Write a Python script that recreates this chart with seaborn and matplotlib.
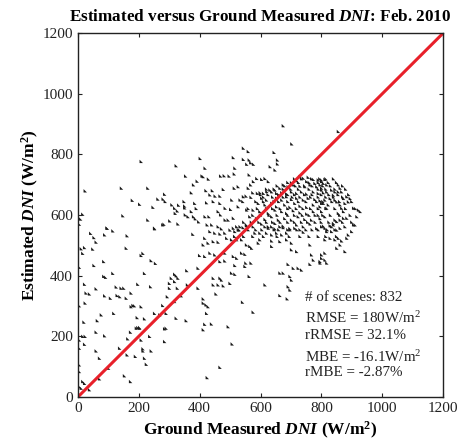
import seaborn as sns
import pandas as pd
import matplotlib.pyplot as plt

# ground measured DNI (x) and estimated DNI (y), W/m2
ground = [208, 323, 402, 354, 408, 392, 380, 24, 143, 230, 373, 285, 263, 280, 287, 179, 203, 247, 309, 331,
          318, 327, 320, 349, 351, 351, 384, 373, 389, 353, 362, 380, 386, 397, 329, 302, 283, 230, 252, 148,
          96, 16, 9, 5,
          675, 703, 544, 560, 645, 511, 544, 563, 568, 577, 555, 656, 656, 632, 648, 418, 516, 412, 429, 469,
          481, 497, 514, 563, 588, 604, 615, 577, 568, 626, 527, 514, 560, 478, 421, 442, 434, 451, 467, 575,
          590, 599, 610, 621, 544, 553, 569, 533, 542, 506, 423, 445, 467, 484, 502, 527, 555, 418, 431, 461,
          469, 484, 494, 511, 425, 440, 461,
          856, 801, 812, 807, 796, 818, 801, 818, 834, 845, 856, 862, 856, 867, 840, 829, 812, 801, 823, 845,
          851, 873, 884, 895, 889, 878, 862, 867, 873, 856, 845, 840, 851, 862, 873, 884, 906, 922, 928, 917,
          911, 834, 812, 801, 818,
          42, 53, 60, 96, 115, 88, 162, 252, 279, 378, 11, 22, 16, 49, 159, 214, 208, 241, 255, 85,
          5, 53, 115, 85, 91, 219, 318, 323, 307, 329, 358, 395, 400, 22, 60, 197, 239, 301, 318, 301,
          327, 360, 395, 27, 38, 88, 107, 126, 142, 151, 129, 138, 159, 175, 294, 340, 24, 175, 181, 186,
          208, 5, 279, 318, 77, 118, 64, 20, 195, 219, 252, 269, 290, 323, 356, 197, 203, 290,
          60, 88, 16, 24, 5, 22, 5, 60, 71, 173, 192, 203, 164, 137, 208, 236, 285, 285, 241, 189,
          162, 214, 219, 225, 214, 5, 101, 153, 173, 71, 16, 22, 38, 5, 11, 5, 0,
          434, 450, 467, 483, 472, 500, 511, 522, 533, 543, 554, 516, 527, 417, 428, 445, 461, 489, 505, 522,
          538, 554, 565, 571, 582, 598, 593, 615, 626, 637, 648, 664, 675, 620, 637, 653, 670, 686, 697, 713,
          730, 741, 598, 637, 664, 686, 702, 637, 763, 702, 719, 768, 774, 796, 763, 412, 417, 434, 450, 483,
          511, 522, 538, 549, 467, 483, 516, 549, 552, 569, 563, 505, 516, 500, 445, 467, 472, 445, 461, 478,
          691, 708, 724, 735, 664, 675, 697, 702, 615, 691, 697, 664, 688, 454, 412, 412, 421, 428, 541, 576,
          423, 417, 439, 494, 507, 467, 425, 412,
          801, 812, 829, 840, 818, 834, 851, 862, 878, 906, 900, 812, 829, 845, 856, 867, 884, 889, 851, 862,
          878, 801, 812, 796, 812, 818, 801,
          730, 741, 757, 774, 790, 801, 752, 719, 702, 779, 675, 691, 708, 730, 746, 763, 785, 801, 664, 648,
          631, 637, 653, 670, 686, 702, 719, 735, 752, 774, 790, 807, 653, 670, 686, 702, 719, 741, 757, 779,
          796, 620, 604, 593, 615, 637, 653, 680, 697, 713, 730, 752, 774, 796, 807, 576, 598, 626, 648, 670,
          686, 708, 730, 752, 774, 790, 565, 587, 615, 637, 659, 680, 702, 724, 746, 768, 796, 554, 576, 604,
          626, 648, 675, 697, 719, 741, 763, 785, 807]
estimated = [777, 763, 787, 729, 729, 712, 700, 680, 689, 689, 674, 669, 653, 653, 645, 649, 636, 626, 634, 633,
             623, 614, 606, 645, 630, 624, 639, 612, 622, 601, 595, 595, 588, 578, 571, 581, 570, 584, 557, 598,
             557, 603, 587, 570,
             895, 835, 821, 810, 807, 790, 784, 782, 773, 768, 768, 782, 769, 760, 749, 755, 755, 727, 719, 729,
             730, 729, 736, 733, 721, 718, 721, 711, 700, 711, 694, 689, 689, 685, 681, 681, 667, 663, 663, 674,
             672, 674, 672, 678, 661, 663, 659, 650, 645, 650, 641, 645, 639, 623, 619, 628, 617, 595, 595, 612,
             601, 584, 584, 590, 568, 568, 562,
             876, 716, 718, 705, 700, 700, 683, 677, 683, 677, 700, 689, 677, 677, 666, 655, 650, 639, 634, 650,
             644, 655, 661, 655, 644, 639, 634, 623, 612, 606, 584, 573, 579, 584, 590, 590, 623, 617, 612, 595,
             568, 562, 595, 612, 623,
             540, 526, 511, 557, 548, 535, 532, 555, 568, 537, 489, 493, 474, 488, 491, 474, 467, 450, 441, 447,
             428, 434, 408, 398, 395, 408, 405, 400, 392, 392, 417, 425, 467, 372, 357, 372, 364, 375, 381, 359,
             359, 370, 359, 343, 340, 334, 326, 363, 359, 359, 335, 331, 326, 343, 331, 334, 310, 298, 302, 301,
             298, 301, 302, 315, 271, 276, 252, 247, 262, 258, 276, 271, 276, 260, 252, 229, 229, 227,
             214, 202, 200, 200, 188, 174, 161, 152, 128, 214, 227, 227, 192, 161, 188, 200, 225, 183, 152, 134,
             139, 152, 128, 108, 159, 106, 95, 70, 51, 60, 51, 45, 24, 34, 29, 84, 0,
             546, 541, 538, 541, 555, 551, 557, 562, 562, 559, 565, 546, 551, 524, 508, 513, 511, 524, 519, 519,
             519, 502, 497, 491, 541, 519, 508, 562, 557, 562, 555, 562, 559, 541, 535, 541, 535, 541, 552, 557,
             552, 544, 541, 515, 513, 519, 508, 497, 502, 486, 480, 469, 452, 442, 438, 502, 464, 475, 469, 475,
             464, 458, 475, 471, 447, 449, 434, 431, 442, 442, 398, 409, 405, 375, 392, 392, 386, 370, 370, 367,
             438, 425, 425, 419, 409, 409, 398, 386, 370, 364, 353, 335, 324, 340, 324, 310, 304, 298, 313, 280,
             276, 240, 241, 232, 175, 98, 64, 222,
             562, 557, 565, 568, 546, 546, 551, 557, 562, 568, 546, 519, 524, 519, 524, 515, 524, 535, 491, 502,
             480, 469, 475, 447, 452, 442, 458,
             727, 722, 725, 718, 716, 711, 711, 714, 707, 705, 700, 694, 700, 696, 694, 700, 694, 689, 689, 683,
             683, 677, 672, 674, 670, 677, 672, 677, 670, 677, 672, 674, 656, 650, 661, 652, 656, 650, 656, 652,
             648, 650, 656, 639, 634, 639, 628, 634, 626, 639, 630, 626, 634, 628, 639, 617, 612, 606, 617, 612,
             606, 615, 608, 604, 612, 600, 595, 589, 586, 595, 584, 589, 584, 595, 586, 584, 589, 568, 562, 571,
             562, 573, 564, 556, 568, 562, 571, 556, 564]

# extra points in the dense cluster (600-900 W/m2), read row by row
core_ground = [712, 735, 768, 795, 815, 840,
               690, 725, 760, 790, 823, 850,
               655, 680, 715, 745, 770, 805, 830, 870,
               620, 645, 675, 700, 725, 760, 790, 815, 845, 880,
               600, 625, 660, 690, 712, 745, 770, 800, 825, 855, 890,
               610, 640, 675, 705, 730, 765, 790, 815, 840, 870,
               585, 610, 645, 660, 690, 725, 750, 785, 805, 835, 860, 900,
               560, 590, 620, 640, 665, 690, 718, 740, 765, 790, 815, 845, 880, 912,
               575, 600, 628, 655, 690, 712, 738, 760, 780, 805, 830, 860, 895,
               545, 570, 595, 620, 640, 665, 690, 712, 735, 755, 780, 800, 825, 870, 900,
               530, 560, 585, 605, 645, 660, 690, 720, 750, 770, 790, 820, 845,
               515, 545, 575, 610, 655, 695, 730, 760, 790, 815, 850]
core_est = [720] * 6 + [708] * 6 + [697] * 8 + [686] * 10 + [668] * 11 + [660] * 10 + \
           [645] * 12 + [622] * 14 + [600] * 13 + [577] * 15 + [552] * 13 + [530] * 11

df = pd.DataFrame({'ground': ground + core_ground, 'estimated': estimated + core_est})

plt.rcParams['font.family'] = ['Liberation Serif', 'DejaVu Serif']
plt.rcParams['mathtext.fontset'] = 'custom'
plt.rcParams['mathtext.rm'] = 'Liberation Serif'
plt.rcParams['mathtext.it'] = 'Liberation Serif:italic:bold'
plt.rcParams['mathtext.bf'] = 'Liberation Serif:bold'

fig = plt.figure(figsize=(4.64, 4.42), dpi=100)
ax = fig.add_axes([0.168, 0.102, 0.787, 0.823])

tri = [(-1, -1), (-1, 1), (1, -1)]
sns.scatterplot(x='ground', y='estimated', data=df, ax=ax, marker=tri, s=6,
                color='#1a1a1a', edgecolor='none', linewidth=0)
ax.plot([0, 1200], [0, 1200], color='#e8202a', linewidth=2.2)

ax.set_xlim(0, 1200)
ax.set_ylim(0, 1200)
ticks = [0, 200, 400, 600, 800, 1000, 1200]
ax.set_xticks(ticks)
ax.set_yticks(ticks)
ax.tick_params(direction='in', length=3, top=True, right=True, labelsize=11,
               colors='#222222', width=0.8)
for sp in ax.spines.values():
    sp.set_linewidth(1.0)
    sp.set_color('#222222')

ax.set_title('Estimated versus Ground Measured $DNI$: Feb. 2010', fontsize=12.3,
             fontweight='bold', pad=9)
ax.set_xlabel('Ground Measured $DNI$ (W/m$^\\mathbf{2}$)', fontsize=12.5, fontweight='bold', labelpad=4)
ax.set_ylabel('Estimated $DNI$ (W/m$^\\mathbf{2}$)', fontsize=12.5, fontweight='bold', labelpad=1)

stats = ['# of scenes: 832', 'RMSE = 180W/m$^2$', 'rRMSE = 32.1%', 'MBE = -16.1W/m$^2$', 'rMBE = -2.87%']
stat_y = [327, 261, 201, 132, 82]
for s, yy in zip(stats, stat_y):
    ax.text(747, yy, s, fontsize=10.8, va='center', ha='left', color='#222222')

fig.savefig('out.png', dpi=100)
